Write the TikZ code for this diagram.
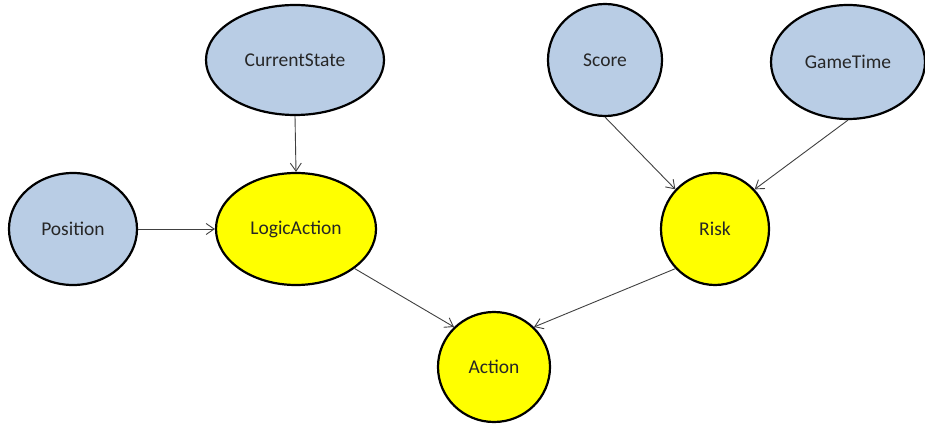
\documentclass[tikz,border=0pt]{standalone}
\usepackage{fontspec}
\setmainfont{Carlito}
\usetikzlibrary{shapes.geometric,arrows.meta}
\definecolor{nodeblue}{HTML}{B9CDE5}
\definecolor{nodeyellow}{HTML}{FFFF00}
\definecolor{edgegray}{HTML}{404040}
\tikzset{
  var/.style={ellipse, draw=black, line width=2.2pt, inner sep=0pt,
    font=\fontsize{19.5}{23}\selectfont, text=black!85},
  inputvar/.style={var, fill=nodeblue},
  decvar/.style={var, fill=nodeyellow},
  link/.style={draw=edgegray, line width=0.9pt,
    -{Straight Barb[length=8pt,width=11pt,line width=0.9pt]}}
}
\begin{document}
\begin{tikzpicture}[x=1pt,y=-1pt]
  \useasboundingbox (0,0) rectangle (925,425);
  % input variables
  \node[inputvar, minimum width=178pt, minimum height=110pt] (cur)   at (295,60)  {CurrentState};
  \node[inputvar, minimum width=114pt, minimum height=112pt] (score) at (605,60)  {Score};
  \node[inputvar, minimum width=154pt, minimum height=114pt] (gtime) at (848,62)  {GameTime};
  \node[inputvar, minimum width=128pt, minimum height=112pt] (pos)   at (73,229)  {Position};
  % derived variables
  \node[decvar, minimum width=160pt, minimum height=112pt] (logic)  at (296,229) {LogicAction};
  \node[decvar, minimum width=108pt, minimum height=112pt] (risk)   at (715,229) {Risk};
  \node[decvar, minimum width=112pt, minimum height=110pt] (action) at (494,367) {Action};
  % dependencies
  \draw[link] (cur.south) -- (logic.north);
  \draw[link] (pos.east) -- (logic.west);
  \draw[link] (score.south) -- (risk.135);
  \draw[link] (gtime.south) -- (risk.45);
  \draw[link] (logic.-34) -- (action.135);
  \draw[link] (risk.225) -- (action.45);
\end{tikzpicture}
\end{document}
